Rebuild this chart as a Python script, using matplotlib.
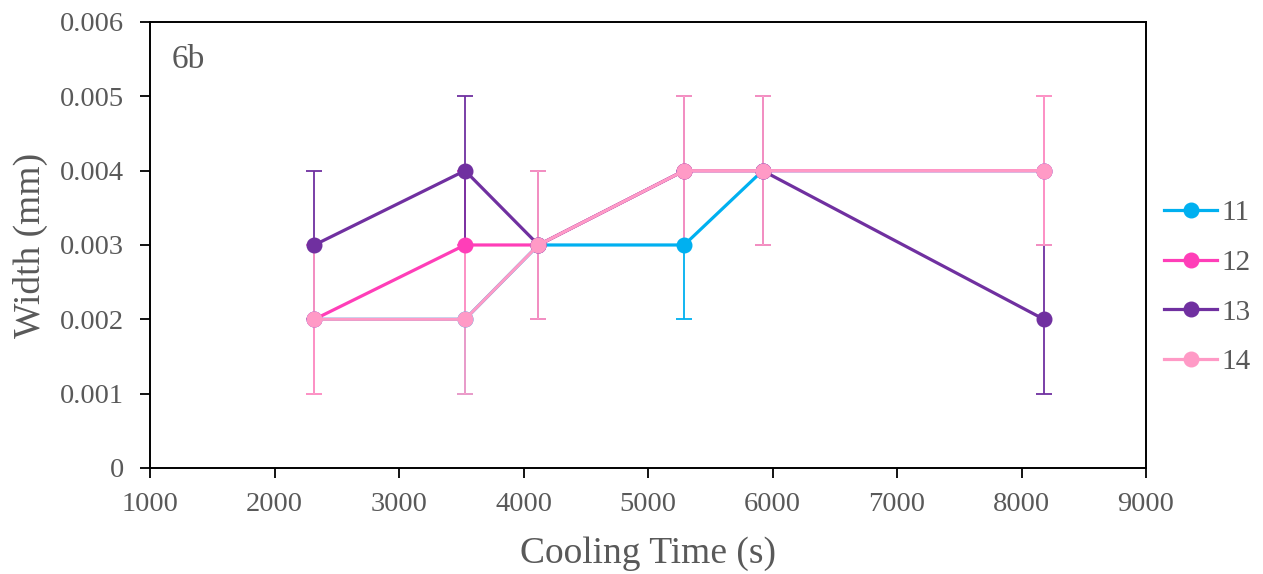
import numpy as np
import matplotlib
matplotlib.use("Agg")
import matplotlib.pyplot as plt

plt.rcParams['font.family'] = ['Liberation Serif', 'DejaVu Serif']

# cooling times (s)
cooling_time = [2320, 3530, 4120, 5290, 5920, 8180]

# width (mm) per run
w11 = [0.002, 0.002, 0.003, 0.003, 0.004, 0.004]
w12 = [0.002, 0.003, 0.003, 0.004, 0.004, 0.004]
w13 = [0.003, 0.004, 0.003, 0.004, 0.004, 0.002]
w14 = [0.002, 0.002, 0.003, 0.004, 0.004, 0.004]
err = [0.001, 0.001, 0.001, 0.001, 0.001, 0.001]

labels = ['11', '12', '13', '14']
colors = ['#00B0F0', '#FF3EB8', '#7030A0', '#FF9AC6']
series = [w11, w12, w13, w14]

txt = '#595959'

fig = plt.figure(figsize=(12.63, 5.74), dpi=100)
ax = fig.add_axes([0.1188, 0.1847, 0.7886, 0.777])

handles = []
for y, c, lab in zip(series, colors, labels):
    ax.errorbar(cooling_time, y, yerr=err, fmt='none', ecolor=c,
                elinewidth=1.3, capsize=5.5, capthick=1.3)
for y, c, lab in zip(series, colors, labels):
    h, = ax.plot(cooling_time, y, color=c, lw=2.3, marker='o', ms=10.5,
                 label=lab)
    handles.append(h)

ax.set_xlim(1000, 9000)
ax.set_ylim(0, 0.006)
ax.set_xticks(np.arange(1000, 9001, 1000))
ax.set_yticks(np.arange(0, 0.0061, 0.001))
ax.set_yticklabels(['0', '0.001', '0.002', '0.003', '0.004', '0.005', '0.006'])

ax.tick_params(axis='both', labelsize=20.5, colors='black', labelcolor=txt,
               length=7, width=1.3, direction='out')
ax.tick_params(axis='x', pad=10)
ax.tick_params(axis='y', pad=12)
for s in ax.spines.values():
    s.set_linewidth(1.4)
    s.set_color('black')

ax.set_xlabel('Cooling Time (s)', fontsize=27, color=txt, labelpad=14)
ax.set_ylabel('Width (mm)', fontsize=27, color=txt, labelpad=8)

ax.text(0.022, 0.897, '6b', transform=ax.transAxes, fontsize=24,
        color=txt, va='baseline')

fig.legend(handles=handles, loc='center left', bbox_to_anchor=(0.912, 0.499),
           frameon=False, fontsize=21, labelcolor=txt, handlelength=1.85,
           handletextpad=0.15, labelspacing=0.8, borderaxespad=0)

fig.savefig('out.png', dpi=100)
